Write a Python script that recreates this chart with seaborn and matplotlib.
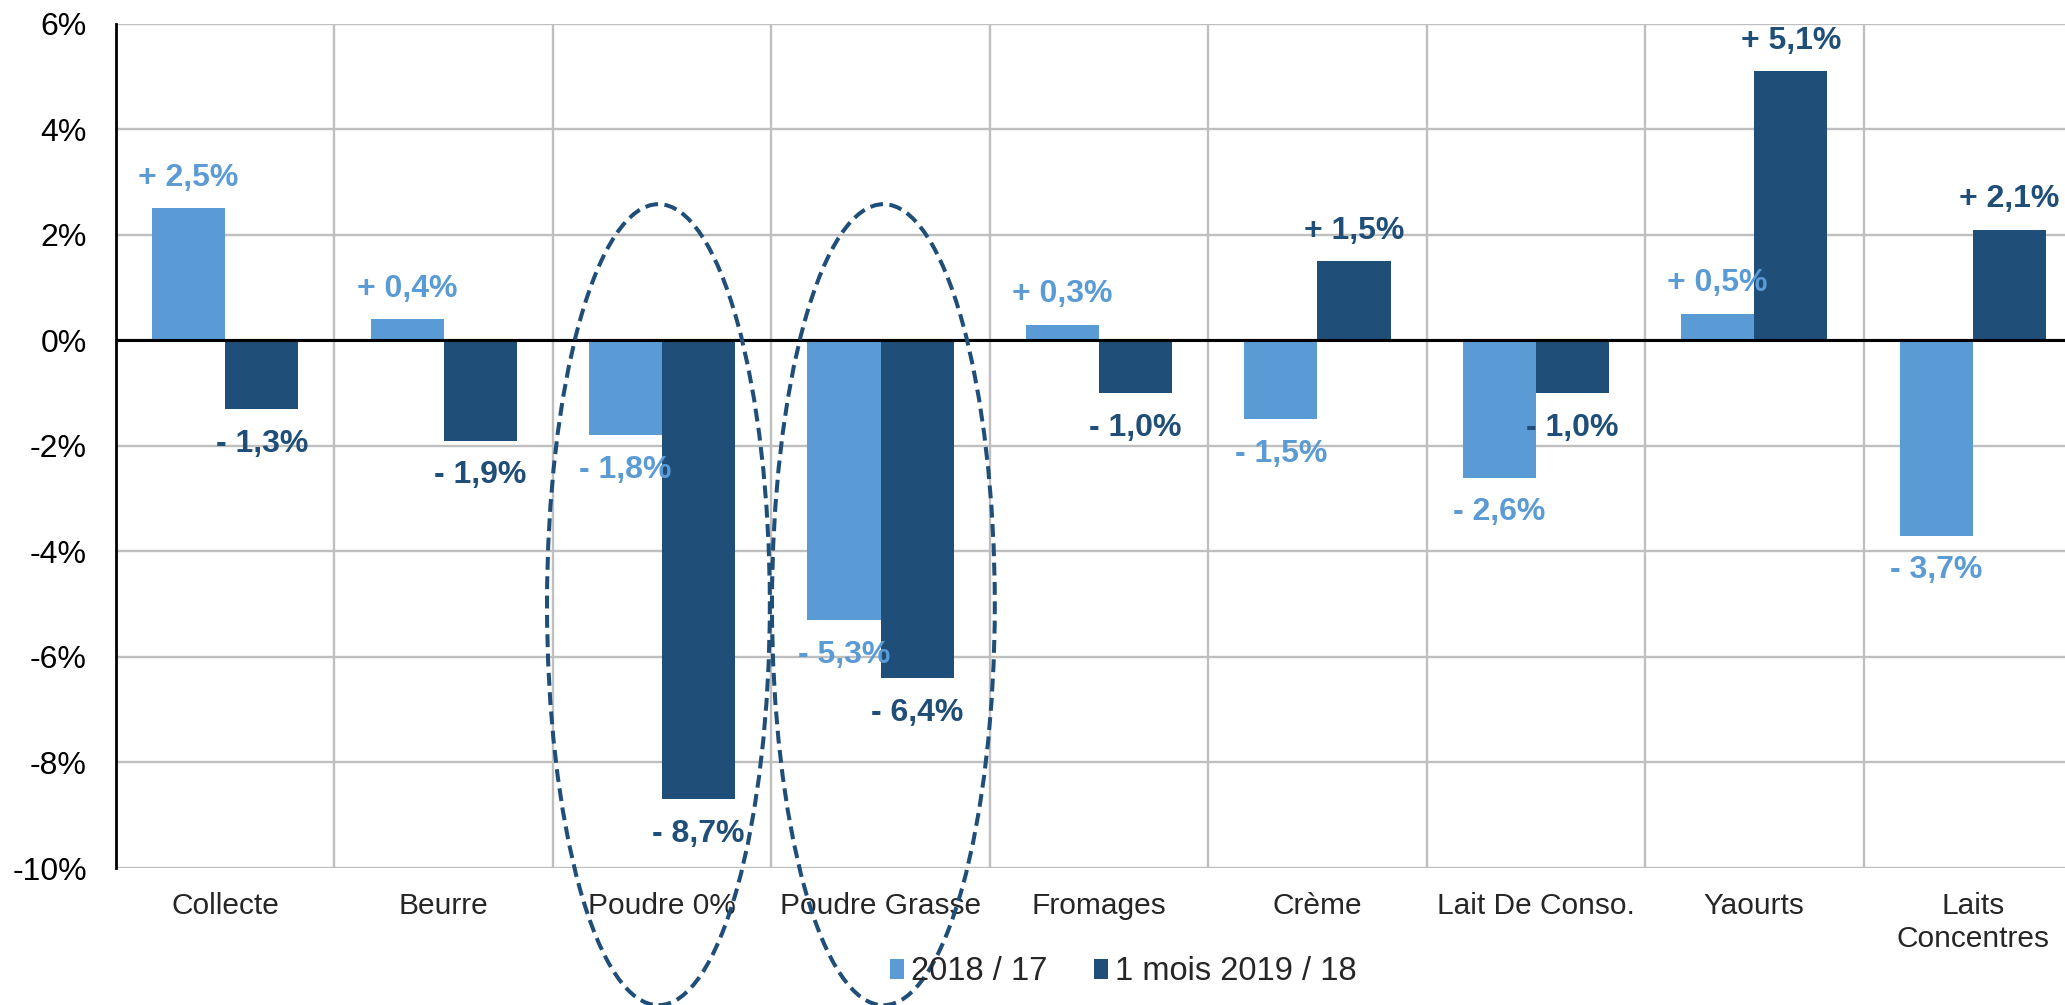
import pandas as pd
import matplotlib
matplotlib.use('Agg')
import matplotlib.pyplot as plt
from matplotlib.patches import Ellipse
from matplotlib.ticker import FixedLocator, FuncFormatter
import seaborn as sns

# Data
categories = ["Collecte", "Beurre", "Poudre 0%", "Poudre Grasse", "Fromages",
              "Crème", "Lait De Conso.", "Yaourts", "Laits\nConcentres"]
series_names = ["2018 / 17", "1 mois 2019 / 18"]
values_2018 = [2.5, 0.4, -1.8, -5.3, 0.3, -1.5, -2.6, 0.5, -3.7]
values_2019 = [-1.3, -1.9, -8.7, -6.4, -1.0, 1.5, -1.0, 5.1, 2.1]
y_ticks = [-10, -8, -6, -4, -2, 0, 2, 4, 6]

light = "#5B9BD5"
dark = "#1F4E79"

df = pd.DataFrame({
    "Produit": categories * 2,
    "Serie": [series_names[0]] * len(categories) + [series_names[1]] * len(categories),
    "Variation": values_2018 + values_2019,
})

sns.set_style("white")
plt.rcParams['font.family'] = ['Liberation Sans', 'DejaVu Sans']

fig = plt.figure(figsize=(20.65, 10.05), dpi=100)
ax = fig.add_axes([0.0562, 0.1363, 0.952, 0.8401])

sns.barplot(data=df, x="Produit", y="Variation", hue="Serie",
            palette=[light, dark], saturation=1, width=0.67, gap=0, linewidth=0,
            errorbar=None, ax=ax, zorder=3)

ax.set_ylim(-10, 6)
ax.set_xlim(-0.5, len(categories) - 0.5)
ax.set_yticks(y_ticks)
ax.yaxis.set_major_formatter(FuncFormatter(lambda v, p: f"{int(v)}%"))
ax.xaxis.set_minor_locator(FixedLocator([i + 0.5 for i in range(len(categories) - 1)]))

ax.grid(axis='y', which='major', color='#BFBFBF', lw=1.7, zorder=0)
ax.grid(axis='x', which='minor', color='#BFBFBF', lw=1.7, zorder=0)
ax.set_axisbelow(True)
ax.axhline(0, color='black', lw=2.2, zorder=4)

for side in ['top', 'right', 'bottom']:
    ax.spines[side].set_visible(False)
ax.spines['left'].set_color('black')
ax.spines['left'].set_linewidth(2)

ax.tick_params(axis='y', length=6, width=1.5, direction='out', labelsize=23, pad=15, colors='black')
ax.tick_params(axis='x', which='both', length=0, labelsize=21.5, pad=17)
for lbl in ax.get_xticklabels():
    lbl.set_linespacing(1.25)
ax.set_xlabel("")
ax.set_ylabel("")

# value labels
for container, vals, col in zip(ax.containers, [values_2018, values_2019], [light, dark]):
    for bar, v in zip(container, vals):
        sign = "+" if v > 0 else "-"
        txt = f"{sign} {abs(v):.1f}%".replace(".", ",")
        xc = bar.get_x() + bar.get_width() / 2
        off = 22 if v > 0 else -25
        ax.annotate(txt, xy=(xc, v), xytext=(0, off), textcoords='offset points',
                    ha='center', va='center', fontsize=23, fontweight='bold',
                    color=col, zorder=6)

# dashed ellipses highlighting the powders
for xc in [1.983, 3.013]:
    ax.add_patch(Ellipse((xc, -5.01), width=1.02, height=15.18, fill=False,
                         edgecolor=dark, lw=2.9, linestyle=(0, (3.2, 1.6)),
                         clip_on=False, zorder=7))

handles, labels = ax.get_legend_handles_labels()
ax.get_legend().remove()
fig.legend(handles, labels, loc='center', bbox_to_anchor=(0.544, 0.033), ncol=2,
           frameon=False, fontsize=23.5, handlelength=0.42, handleheight=0.55,
           handletextpad=0.2, columnspacing=1.45)

plt.savefig('out.png', dpi=100)
